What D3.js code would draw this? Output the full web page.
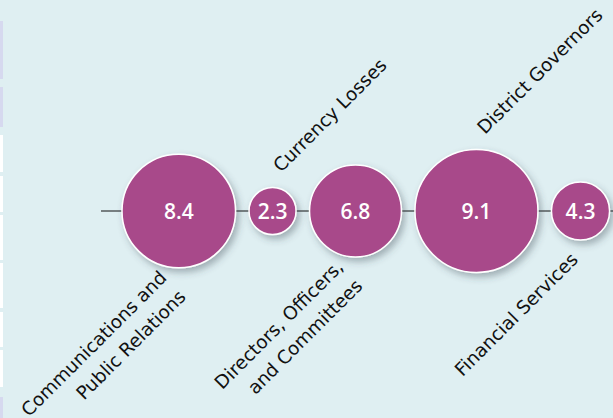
<!DOCTYPE html>
<html>
<head>
<meta charset="utf-8">
<script src="https://cdn.jsdelivr.net/npm/d3@7"></script>
<style>
  html, body { margin: 0; padding: 0; background: #dfeff2; }
  svg { display: block; }
</style>
</head>
<body>
<svg id="chart" width="613" height="418"></svg>
<script>
// Expense categories, each label split into its printed lines
const labelLines = [
  ["Communications and", "Public Relations"],
  ["Currency Losses"],
  ["Directors, Officers,", "and Committees"],
  ["District Governors"],
  ["Financial Services"]
];
// Value shown inside each bubble
const values = [8.4, 2.3, 6.8, 9.1, 4.3];
// Value tick labels (as printed in the bubbles)
const valueLabels = ["8.4", "2.3", "6.8", "9.1", "4.3"];

// Thin tabs along the left edge (top, bottom, fill)
const edgeTabs = [
  [21, 79, "#d6d9ef"], [87, 127, "#d6d9ef"],
  [135, 172, "#ffffff"], [176, 212, "#ffffff"], [215, 260, "#ffffff"],
  [263, 308, "#ffffff"], [312, 347, "#ffffff"], [350, 387, "#ffffff"],
  [397, 418, "#d6d9ef"]
];

const W = 613, H = 418;
const svg = d3.select("#chart");

const bg = "#dfeff2";
const bubbleFill = "#a8488a";
const axisY = 211;
const lineStart = 101;
const firstLeft = 122;
const gap = 13.5;
const minR = 23.5;

svg.append("rect").attr("width", W).attr("height", H).attr("fill", bg);

svg.selectAll("rect.tab").data(edgeTabs).join("rect")
  .attr("class", "tab")
  .attr("x", 0).attr("width", 3)
  .attr("y", d => d[0]).attr("height", d => d[1] - d[0])
  .attr("fill", d => d[2]);

const defs = svg.append("defs");
const f = defs.append("filter").attr("id", "shadow")
  .attr("x", "-30%").attr("y", "-30%").attr("width", "170%").attr("height", "170%");
f.append("feDropShadow")
  .attr("dx", 3).attr("dy", 4).attr("stdDeviation", 3.5)
  .attr("flood-color", "#3a4a50").attr("flood-opacity", 0.38);

// bubble radius grows linearly with value, with a floor so the text fits
const rScale = d3.scaleLinear().domain([0, 9.1]).range([0, 61.5]);
const radius = v => Math.max(minR, rScale(v));

// pack bubbles side by side along the axis line
const nodes = [];
let cursor = firstLeft;
values.forEach((v, i) => {
  const r = radius(v);
  nodes.push({ i, v, r, cx: cursor + r, lines: labelLines[i], label: valueLabels[i] });
  cursor += 2 * r + gap;
});

svg.append("line")
  .attr("x1", lineStart).attr("x2", W)
  .attr("y1", axisY).attr("y2", axisY)
  .attr("stroke", "#111").attr("stroke-width", 1.1);

const g = svg.selectAll("g.bubble").data(nodes).join("g")
  .attr("class", "bubble")
  .attr("transform", d => `translate(${d.cx},${axisY})`);

g.append("circle")
  .attr("r", d => d.r)
  .attr("fill", bubbleFill)
  .attr("stroke", "#ffffff")
  .attr("stroke-width", 1.5)
  .attr("filter", "url(#shadow)");

g.append("text")
  .attr("text-anchor", "middle")
  .attr("dy", "0.36em")
  .attr("fill", "#ffffff")
  .style("font-family", "'Open Sans', sans-serif")
  .style("font-weight", 600)
  .style("font-size", "21px")
  .text(d => d.label);

// category labels, alternating below / above, set at 45 degrees
const fs = 18.5, lh = 27;
svg.selectAll("text.cat").data(nodes).join("text")
  .attr("class", "cat")
  .attr("transform", d => {
    const above = d.i % 2 === 1;
    const x = above ? d.cx + 4 : d.cx - 6;
    const y = above ? axisY - d.r - 19 : axisY + d.r + 16;
    return `translate(${x},${y}) rotate(-45)`;
  })
  .attr("text-anchor", d => d.i % 2 === 1 ? "start" : "end")
  .style("font-family", "'DejaVu Sans', Verdana, sans-serif")
  .style("font-size", fs + "px")
  .attr("fill", "#111")
  .each(function(d) {
    const t = d3.select(this);
    const n = d.lines.length;
    d.lines.forEach((line, k) => {
      t.append("tspan")
        .attr("x", 0)
        .attr("y", (k - (n - 1) / 2) * lh + fs * 0.35)
        .text(line);
    });
  });
</script>
</body>
</html>
